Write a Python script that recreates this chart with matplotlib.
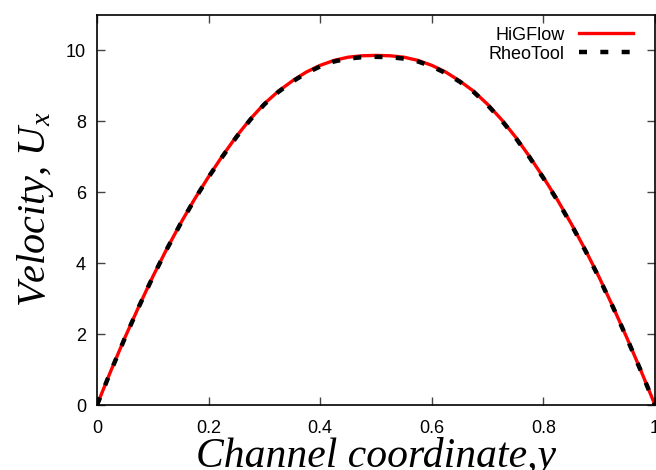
import matplotlib
matplotlib.use("Agg")
import matplotlib.pyplot as plt

# channel coordinate
y_coord = [0.0, 0.025, 0.05, 0.075, 0.1, 0.125, 0.15, 0.175, 0.2, 0.225,
           0.25, 0.275, 0.3, 0.325, 0.35, 0.375, 0.4, 0.425, 0.45, 0.475,
           0.5, 0.525, 0.55, 0.575, 0.6, 0.625, 0.65, 0.675, 0.7, 0.725,
           0.75, 0.775, 0.8, 0.825, 0.85, 0.875, 0.9, 0.925, 0.95, 0.975, 1.0]

# velocity profiles
u_higflow = [0.0, 0.97, 1.90, 2.78, 3.62, 4.40, 5.13, 5.81, 6.44, 7.03,
             7.58, 8.07, 8.50, 8.85, 9.14, 9.39, 9.58, 9.72, 9.81, 9.85,
             9.86, 9.85, 9.81, 9.72, 9.58, 9.39, 9.14, 8.85, 8.48, 8.05,
             7.56, 7.01, 6.42, 5.79, 5.11, 4.38, 3.60, 2.76, 1.88, 0.96, 0.0]

u_rheotool = [0.0, 0.96, 1.89, 2.77, 3.61, 4.39, 5.12, 5.80, 6.43, 7.01,
              7.56, 8.05, 8.48, 8.83, 9.12, 9.36, 9.55, 9.69, 9.77, 9.81,
              9.82, 9.81, 9.77, 9.69, 9.55, 9.36, 9.12, 8.83, 8.46, 8.03,
              7.54, 6.99, 6.40, 5.77, 5.09, 4.36, 3.58, 2.75, 1.87, 0.95, 0.0]

x_ticks = [0, 0.2, 0.4, 0.6, 0.8, 1]
x_ticklabels = ["0", "0.2", "0.4", "0.6", "0.8", "1"]
y_ticks = [0, 2, 4, 6, 8, 10]

plt.rcParams["font.family"] = ["Liberation Sans", "DejaVu Sans"]
plt.rcParams["mathtext.fontset"] = "custom"
plt.rcParams["mathtext.it"] = "Liberation Serif:italic"
plt.rcParams["mathtext.rm"] = "Liberation Serif"

fig = plt.figure(figsize=(6.56, 4.70), dpi=100)
ax = fig.add_axes([97 / 656, 65 / 470, 558 / 656, 390 / 470])

ax.plot(y_coord, u_higflow, color="red", lw=2.4, label="HiGFlow")
ax.plot(y_coord, u_rheotool, color="black", lw=3.2, dashes=(1.8, 3.0),
        label="RheoTool")

ax.set_xlim(0, 1)
ax.set_ylim(0, 11)
ax.set_xticks(x_ticks)
ax.set_xticklabels(x_ticklabels)
ax.set_yticks(y_ticks)

for s in ax.spines.values():
    s.set_linewidth(1.2)
ax.tick_params(direction="in", length=6, width=1, top=True, right=True,
               labelsize=13, pad=8, color="#444444")
ax.tick_params(axis="x", pad=11)

# axis titles placed by hand, like the gnuplot original
fig.text(376 / 656, 3.5 / 470, "Channel coordinate,y", family="Liberation Serif",
         style="italic", fontsize=30, ha="center", va="baseline")
fig.text(36 / 656, 0.555, "Velocity, $U_x$", family="Liberation Serif",
         style="italic", fontsize=29, rotation=90, ha="center", va="center")

ax.legend(loc="upper right", bbox_to_anchor=(0.961, 0.97), frameon=False,
          markerfirst=False, fontsize=13, handlelength=3.0,
          handletextpad=0.8, labelspacing=0.1, borderpad=0,
          borderaxespad=0)

fig.savefig("out.png", dpi=100)
